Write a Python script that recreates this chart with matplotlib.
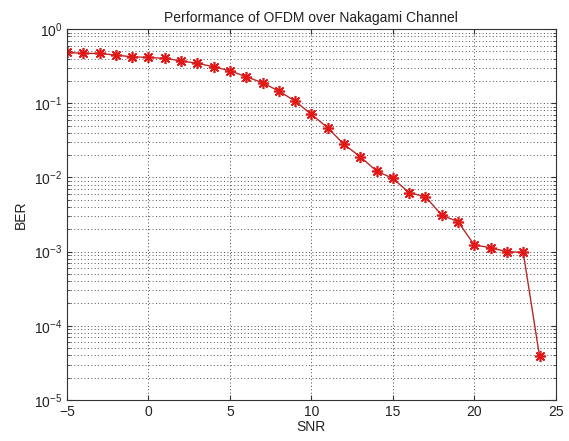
import matplotlib
matplotlib.use("Agg")
import matplotlib.pyplot as plt
from matplotlib.ticker import LogLocator, NullFormatter, FixedLocator

plt.rcParams['font.family'] = ['Liberation Sans', 'DejaVu Sans']
plt.rcParams['mathtext.fontset'] = 'custom'
plt.rcParams['mathtext.rm'] = 'Liberation Sans'
plt.rcParams['mathtext.it'] = 'Liberation Sans'

snr = list(range(-5, 25))
ber = [0.485, 0.471, 0.47, 0.446, 0.423, 0.415, 0.403, 0.374, 0.345, 0.311,
       0.274, 0.228, 0.189, 0.146, 0.107, 0.0708, 0.0468, 0.0279, 0.0190, 0.0122,
       0.0097, 0.00622, 0.00550, 0.00311, 0.00253, 0.00123, 0.00113, 0.000997, 0.00098, 3.9e-5]
x_ticks = [-5, 0, 5, 10, 15, 20, 25]

fig = plt.figure(figsize=(5.69, 4.41), dpi=100)
ax = fig.add_axes([0.1178, 0.093, 0.859, 0.841])
ax.semilogy(snr, ber, '-', color='#b82828', linewidth=1.0, marker=(8, 2, 0),
            markersize=8, markeredgewidth=1.2, markeredgecolor='#e01818',
            markerfacecolor='#e01818')
ax.set_xlim(-5, 25)
ax.set_ylim(1e-5, 1)
ax.xaxis.set_major_locator(FixedLocator(x_ticks))
ax.yaxis.set_major_locator(LogLocator(base=10, numticks=10))
ax.yaxis.set_minor_locator(LogLocator(base=10, subs=range(2, 10), numticks=10))
ax.yaxis.set_minor_formatter(NullFormatter())
ax.grid(True, which='major', linestyle=(0, (1, 2.5)), color='#444444', linewidth=0.7)
ax.grid(True, which='minor', axis='y', linestyle=(0, (1, 2.5)), color='#555555', linewidth=0.7)
ax.tick_params(direction='in', which='both', labelsize=10, top=True, right=True,
               colors='#333333', labelcolor='#222222')
ax.tick_params(which='minor', length=2)
for s in ax.spines.values():
    s.set_color('#333333')
ax.set_title('Performance of OFDM over Nakagami Channel', fontsize=10, pad=5, color='#222222')
ax.set_xlabel('SNR', fontsize=10, labelpad=1, color='#222222')
ax.set_ylabel('BER', fontsize=10, labelpad=4, color='#222222')
fig.savefig('out.png', dpi=100)
